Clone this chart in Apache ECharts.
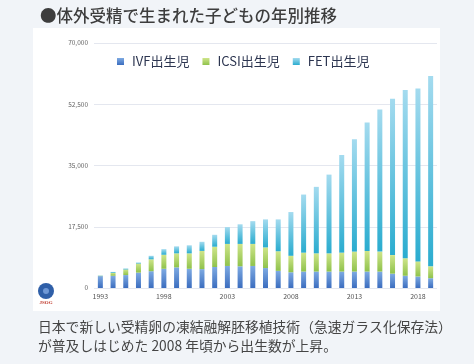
<!DOCTYPE html>
<html><head><meta charset="utf-8">
<script src="https://cdn.jsdelivr.net/npm/echarts@6/dist/echarts.min.js"></script>
<style>html,body{margin:0;padding:0;background:#f1f4f8;}#c{width:474px;height:364px;}</style>
</head><body><div id="c"></div>
<script>
const years = ['1993','1994','1995','1996','1997','1998','1999','2000','2001','2002','2003','2004','2005','2006','2007','2008','2009','2010','2011','2012','2013','2014','2015','2016','2017','2018','2019'];
const ivf  = [3400,3500,3700,4400,4800,5500,5900,5500,5400,6000,6300,6200,6300,5700,4900,4500,4700,4700,4700,4700,4700,4700,4700,4100,3500,3300,2800];
const icsi = [100,800,1600,2600,3400,4000,4000,4400,5200,5800,6300,6400,6300,5900,5600,4700,5400,5200,5200,5400,5700,5900,5700,5300,5000,4300,3400];
const fet  = [100,300,300,300,1000,1600,2000,2300,2600,3400,4800,5600,6500,8000,9100,12500,16600,19000,22500,27900,32100,36700,40600,44700,48100,49400,54400];
const yTicks = [0,17500,35000,52500,70000];
const titleText = '●体外受精で生まれた子どもの年別推移';
const noteLine1 = '日本で新しい受精卵の凍結融解胚移植技術（急速ガラス化保存法）';
const noteLine2 = 'が普及しはじめた 2008 年頃から出生数が上昇。';

const FONT = '"Noto Sans CJK JP","Noto Sans",sans-serif';
function grad(top, bottom){
  return new echarts.graphic.LinearGradient(0,0,0,1,[{offset:0,color:top},{offset:1,color:bottom}]);
}
const cIVF = grad('#7eaae2','#3b6dbf');
const cICSI = grad('#cfe58a','#8fc24c');
const cFET = grad('#a4dbef','#2aaccf');

const chart = echarts.init(document.getElementById('c'), null, {renderer:'canvas'});
chart.setOption({
  backgroundColor:'#f1f4f8',
  animation:false,
  graphic:[
    {type:'rect', z:-10, shape:{x:33,y:28,width:407,height:283}, style:{fill:'#ffffff'}},
    {type:'text', left:40, top:7, style:{text:titleText, font:'500 16.5px '+FONT, fill:'#3d3d3d'}},
    {type:'text', left:38, top:320, style:{text:noteLine1, font:'13.8px '+FONT, fill:'#454545'}},
    {type:'text', left:38, top:339, style:{text:noteLine2, font:'13.8px '+FONT, fill:'#454545'}},
    {type:'circle', shape:{cx:46,cy:291,r:8}, style:{fill:'#2f5fa8'}},
    {type:'circle', shape:{cx:46,cy:291,r:3}, style:{fill:'#6f98d6'}},
    {type:'text', x:46, y:303, style:{text:'JSOG', font:'bold 5px serif', fill:'#c0392b', textAlign:'center', textVerticalAlign:'middle'}}
  ],
  legend:{
    left:112, top:50, itemWidth:7, itemHeight:7, itemGap:13,
    icon:'rect',
    textStyle:{fontSize:13, color:'#2c3550', fontFamily:FONT, padding:[0,0,0,3]},
    data:['IVF出生児','ICSI出生児','FET出生児']
  },
  grid:{left:94, right:37, top:43, bottom:76, containLabel:false},
  xAxis:{
    type:'category', data:years,
    axisLine:{show:false}, axisTick:{show:false},
    axisLabel:{interval:4, fontSize:7, color:'#555', margin:5, fontFamily:FONT}
  },
  yAxis:{
    type:'value', min:0, max:70000, interval:17500,
    axisLine:{show:false}, axisTick:{show:false},
    splitLine:{lineStyle:{color:'#e4e7ef', width:1}},
    axisLabel:{fontSize:6.5, color:'#666', margin:6, fontFamily:FONT,
      formatter:v=>yTicks.includes(v)?v.toLocaleString('en-US'):''}
  },
  series:[
    {name:'IVF出生児', type:'bar', stack:'a', barWidth:5, data:ivf, itemStyle:{color:cIVF}},
    {name:'ICSI出生児', type:'bar', stack:'a', barWidth:5, data:icsi, itemStyle:{color:cICSI}},
    {name:'FET出生児', type:'bar', stack:'a', barWidth:5, data:fet, itemStyle:{color:cFET}}
  ]
});
</script></body></html>
